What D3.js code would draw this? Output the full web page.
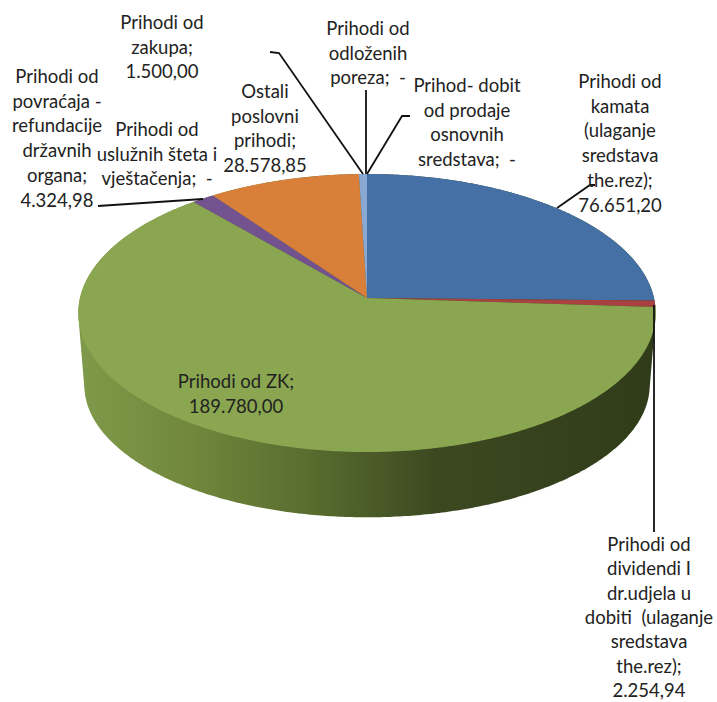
<!DOCTYPE html>
<html>
<head>
<meta charset="utf-8">
<script src="https://cdnjs.cloudflare.com/ajax/libs/d3/7.8.5/d3.min.js"></script>
<style>
html, body { margin: 0; padding: 0; background: #fff; overflow: hidden; }
text { font-family: Lato, sans-serif; font-size: 18.5px; fill: #222; text-anchor: middle; white-space: pre; }
</style>
</head>
<body>
<svg id="chart" width="717" height="702"></svg>
<script>
// slices, in drawing order (clockwise from 12 o'clock)
const names = [
  'Prihodi od\nkamata\n(ulaganje\nsredstava\nthe.rez);',
  'Prihodi od\ndividendi I\ndr.udjela u\ndobiti  (ulaganje\nsredstava\nthe.rez);',
  'Prihodi od ZK;',
  'Prihodi od\nuslužnih šteta i\nvještačenja;',
  'Prihodi od\npovraćaja -\nrefundacije\ndržavnih\norgana;',
  'Ostali\nposlovni\nprihodi;',
  'Prihodi od\nzakupa;',
  'Prihodi od\nodloženih\nporeza;',
  'Prihod- dobit\nod prodaje\nosnovnih\nsredstava;'
];
const values = [76651.20, 2254.94, 189780.00, 0, 4324.98, 28578.85, 1500.00, 0, 0];
const colors = ['#4470a6', '#a8413f', '#8aa650', '#72528f', '#72528f', '#d97f39', '#8aa9d2', '#8aa9d2', '#8aa9d2'];

// where each label sits: centre x, first baseline, line spacing
const labelX = [620, 649, 236, 157, 57, 265, 162, 368, 467];
const labelY = [88, 551, 388, 136, 83, 98, 29, 35, 92];
const lineStep = [24.7, 24.3, 24.7, 24.7, 24.7, 24.7, 24.7, 24.7, 24.7];

// leader lines, one per label that has one
const leaders = [
  [[595, 185], [590, 185], [557, 208]],
  [[654, 305], [654, 532]],
  [[98, 206], [203, 199]],
  [[270, 52], [279, 53], [363, 174]],
  [[366, 90], [366, 174]],
  [[410, 116], [402, 116], [367, 174]]
];

const svg = d3.select('#chart');
const fmt = d3.formatLocale({ decimal: ',', thousands: '.', grouping: [3], currency: ['', ''] }).format(',.2f');

// perspective view of a flat disc: the near half of the pie looks bigger
const tilt = 0.108;
const discs = {
  top: { cx: 367, cy: 298, rx: 287, ry: 137.4 },
  bottom: { cx: 367, cy: 371, rx: 281, ry: 130.5 }
};
function project(angle, disc, r = 1) {
  const u = Math.sin(angle) * r;
  const v = -Math.cos(angle) * r;
  const w = 1 - tilt * v;
  return [disc.cx + disc.rx * u / w, disc.cy + disc.ry * v / w];
}

const pie = d3.pie().sort(null).value(d => d).startAngle(0).endAngle(2 * Math.PI);
const arcs = pie(values);
const line = d3.line();

// side wall = hull of both rims
const circleAngles = d3.range(0, 2 * Math.PI, 0.01);
const rimPoints = circleAngles.map(a => project(a, discs.top))
  .concat(circleAngles.map(a => project(a, discs.bottom)));
const hull = d3.polygonHull(rimPoints);

const grad = svg.append('defs').append('linearGradient')
  .attr('id', 'side')
  .attr('gradientUnits', 'userSpaceOnUse')
  .attr('x1', 77).attr('x2', 655).attr('y1', 0).attr('y2', 0);
[[0, '#7f9a4a'], [0.2, '#70873c'], [0.42, '#566a2e'], [0.62, '#3c4920'], [1, '#303b19']]
  .forEach(s => grad.append('stop').attr('offset', s[0]).attr('stop-color', s[1]));

svg.append('path')
  .attr('d', line(hull) + 'Z')
  .attr('fill', 'url(#side)');

// top face
svg.append('g').selectAll('path')
  .data(arcs)
  .enter()
  .append('path')
  .attr('fill', (d, i) => colors[i])
  .attr('d', d => {
    const n = Math.max(1, Math.ceil((d.endAngle - d.startAngle) / 0.01));
    const pts = d3.range(n + 1).map(k => project(d.startAngle + (d.endAngle - d.startAngle) * k / n, discs.top));
    return line([[discs.top.cx, discs.top.cy]].concat(pts)) + 'Z';
  });

// leaders
svg.append('g').selectAll('path')
  .data(leaders)
  .enter()
  .append('path')
  .attr('d', d => line(d))
  .attr('fill', 'none')
  .attr('stroke', '#111')
  .attr('stroke-width', 1.8);

// labels
const labels = svg.append('g').selectAll('text')
  .data(names)
  .enter()
  .append('text')
  .attr('x', (d, i) => labelX[i])
  .attr('y', (d, i) => labelY[i]);

labels.selectAll('tspan')
  .data((d, i) => {
    const rows = d.split('\n');
    if (values[i] === 0) rows[rows.length - 1] += '  -';
    else rows.push(fmt(values[i]));
    return rows.map((t, k) => ({ t, x: labelX[i], k, step: lineStep[i] }));
  })
  .enter()
  .append('tspan')
  .attr('x', d => d.x)
  .attr('dy', d => d.k ? d.step : 0)
  .text(d => d.t);
</script>
</body>
</html>
